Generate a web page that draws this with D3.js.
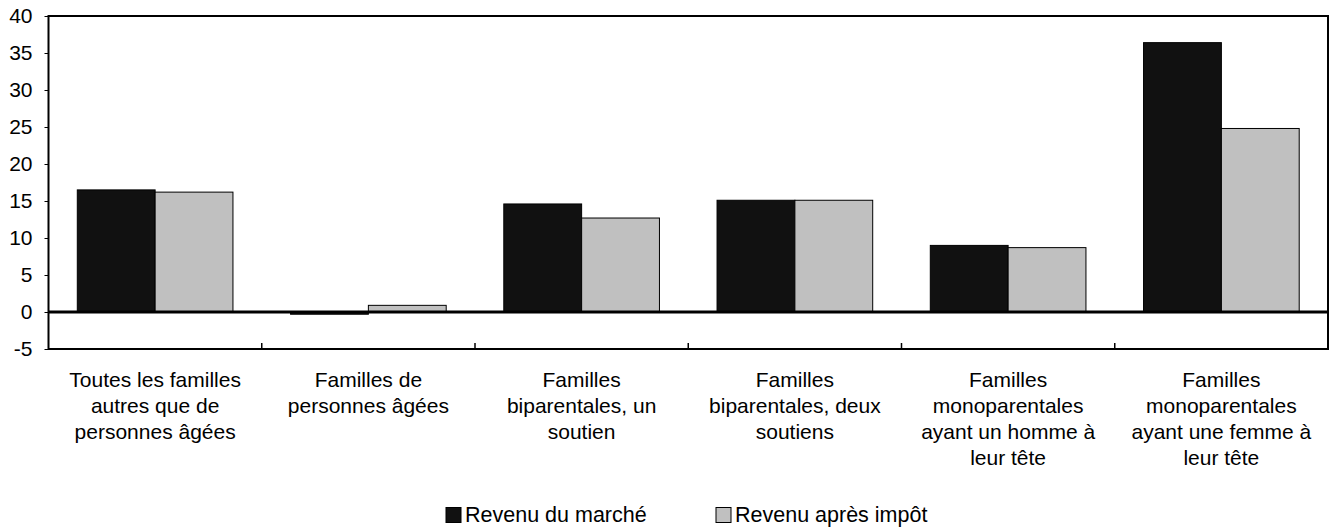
<!DOCTYPE html>
<html>
<head>
<meta charset="utf-8">
<script src="https://cdn.jsdelivr.net/npm/d3@7"></script>
<style>
  body { margin: 0; background: #fff; }
  svg text { font-family: "Liberation Sans", Arial, sans-serif; fill: #000; }
</style>
</head>
<body>
<div id="chart"></div>
<script>
// data
var categories = [
    ["Toutes les familles", "autres que de", "personnes âgées"],
    ["Familles de", "personnes âgées"],
    ["Familles", "biparentales, un", "soutien"],
    ["Familles", "biparentales, deux", "soutiens"],
    ["Familles", "monoparentales", "ayant un homme à", "leur tête"],
    ["Familles", "monoparentales", "ayant une femme à", "leur tête"]
];
var seriesNames = ["Revenu du marché", "Revenu après impôt"];
var marketIncome = [16.5, -0.3, 14.6, 15.1, 9.0, 36.4];
var afterTaxIncome = [16.2, 0.9, 12.7, 15.1, 8.7, 24.8];
var yTicks = [-5, 0, 5, 10, 15, 20, 25, 30, 35, 40];
var colors = ["#111111", "#c0c0c0"];

var svgWidth = 1330;
var svgHeight = 527;
var margin = { top: 16, right: 2, bottom: 178, left: 48.5 };
var width = svgWidth - margin.left - margin.right;
var height = svgHeight - margin.top - margin.bottom;

var svg = d3.select("#chart")
    .append("svg")
    .attr("width", svgWidth)
    .attr("height", svgHeight);

var chartGroup = svg.append("g")
    .attr("transform", `translate(${margin.left}, ${margin.top})`);

var x0 = d3.scaleBand()
    .domain(d3.range(categories.length))
    .range([0, width]);

var x1 = d3.scaleBand()
    .domain([0, 1])
    .range([0, x0.bandwidth()])
    .paddingInner(0)
    .paddingOuter(0.37);

var y = d3.scaleLinear()
    .domain([-5, 40])
    .range([height, 0]);

// y axis labels (plain hyphen for negatives, like the original)
var leftAxis = d3.axisLeft(y)
    .tickValues(yTicks)
    .tickFormat(d => String(d))
    .tickSize(4)
    .tickPadding(12);
var yAxis = chartGroup.append("g").call(leftAxis);
yAxis.select(".domain").remove();
yAxis.selectAll("line").attr("stroke", "#000");
yAxis.selectAll("text")
    .style("font-size", "21px")
    .style("font-family", "Liberation Sans, Arial, sans-serif");

// bars
var rows = categories.map((c, i) => [marketIncome[i], afterTaxIncome[i]]);
var groups = chartGroup.selectAll(".grp")
    .data(rows)
    .enter()
    .append("g")
    .attr("transform", (d, i) => `translate(${x0(i)}, 0)`);

groups.selectAll("rect")
    .data(d => d)
    .enter()
    .append("rect")
    .attr("x", (d, j) => x1(j))
    .attr("width", x1.bandwidth())
    .attr("y", d => y(Math.max(0, d)))
    .attr("height", d => Math.abs(y(d) - y(0)))
    .attr("fill", (d, j) => colors[j])
    .attr("stroke", "#000")
    .attr("stroke-width", 1);

// zero line
chartGroup.append("line")
    .attr("x1", 0)
    .attr("x2", width)
    .attr("y1", y(0))
    .attr("y2", y(0))
    .attr("stroke", "#000")
    .attr("stroke-width", 3);

// x category ticks (inward from bottom)
chartGroup.selectAll(".xtick")
    .data(d3.range(1, categories.length))
    .enter()
    .append("line")
    .attr("x1", i => x0(i))
    .attr("x2", i => x0(i))
    .attr("y1", height)
    .attr("y2", height - 6)
    .attr("stroke", "#000")
    .attr("stroke-width", 1.5);

// frame
chartGroup.append("rect")
    .attr("x", 0)
    .attr("y", 0)
    .attr("width", width)
    .attr("height", height)
    .attr("fill", "none")
    .attr("stroke", "#000")
    .attr("stroke-width", 2);

// category labels
var labels = chartGroup.selectAll(".xlabel")
    .data(categories)
    .enter()
    .append("text")
    .attr("text-anchor", "middle")
    .attr("x", (d, i) => x0(i) + x0.bandwidth() / 2)
    .attr("y", 386.5 - margin.top)
    .style("font-size", "21px");

labels.selectAll("tspan")
    .data(d => d)
    .enter()
    .append("tspan")
    .attr("x", function () { return d3.select(this.parentNode).attr("x"); })
    .attr("dy", (d, k) => k === 0 ? 0 : 26)
    .text(d => d);

// legend
var legendItems = [{ x: 446, name: seriesNames[0], color: colors[0] },
                   { x: 716, name: seriesNames[1], color: colors[1] }];
var legend = svg.selectAll(".legend")
    .data(legendItems)
    .enter()
    .append("g")
    .attr("transform", d => `translate(${d.x}, 507.5)`);

legend.append("rect")
    .attr("width", 15)
    .attr("height", 15)
    .attr("fill", d => d.color)
    .attr("stroke", "#000")
    .attr("stroke-width", 1);

legend.append("text")
    .attr("x", 19)
    .attr("y", 14)
    .style("font-size", "21.5px")
    .text(d => d.name);
</script>
</body>
</html>
